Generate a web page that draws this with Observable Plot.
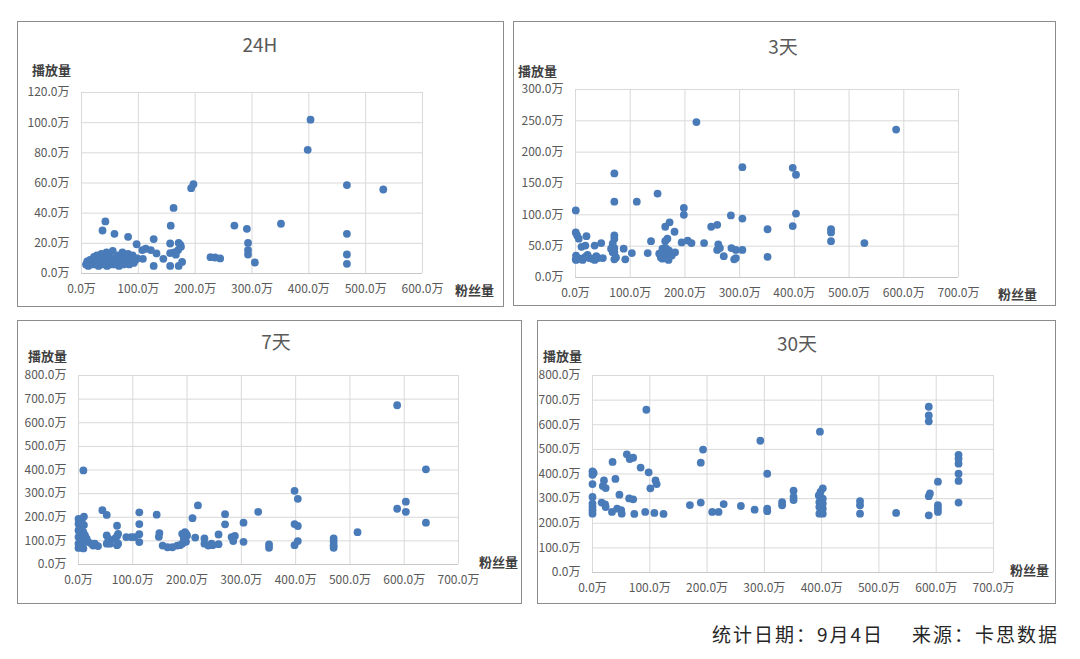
<!DOCTYPE html>
<html><head><meta charset="utf-8">
<script src="https://cdn.jsdelivr.net/npm/d3@7"></script>
<script src="https://cdn.jsdelivr.net/npm/@observablehq/plot@0.6"></script>
<style>
body{margin:0;background:#fff;width:1080px;height:659px;overflow:hidden;position:relative;font-family:"Noto Sans CJK SC","Noto Sans",sans-serif;}
.box{position:absolute;border:1.5px solid #8c8c8c;box-sizing:border-box;background:#fff;}
.chart{position:absolute;}
.chart svg{display:block;}
.title{position:absolute;font-size:19px;color:#595959;transform:translate(-50%,-50%);white-space:nowrap;}
.alab{position:absolute;font-size:13px;font-weight:700;color:#404040;transform:translate(0,-50%);white-space:nowrap;}
.caption{position:absolute;right:21px;top:633px;transform:translate(0,-50%);font-size:19px;letter-spacing:2px;color:#262626;white-space:nowrap;}
.caption span+span{margin-left:28px;}
</style>
</head><body>
<div class="caption"><span>统计日期：9月4日</span><span>来源：卡思数据</span></div>
<script>
// ---- data: [粉丝量(万), 播放量(万)] ----
const data24h = [
 [403,102],[398,82],[467,58.6],[531,55.7],[467,26.3],[467,12.6],[467,6.4],[351,33],[269,31.8],[291,29.6],
 [293,20.3],[293,15.5],[293,12.6],[305,7.3],[227,10.8],[235,10.6],[244,10],[197,59.2],[193,56.6],[162,43.5],
 [157,31.7],[156,19.9],[156,5],[171,20.3],[175,17.7],[170,15.5],[163,14],[156,13.5],[177,7.7],[171,5],
 [174,19],[166,12.5],[127,22.8],[107,15.5],[108,9.7],[113,16.4],[127,5],[144,9.7],[132,13.3],[122,15.5],
 [97,19.4],[82,24.3],[58,26.3],[37,28.5],[42,34.5],
 [8,6],[10,8],[12,5],[14,7],[15,9],[18,6],[20,8],[22,11],[24,6],[25,9],[27,12],[28,7],[30,5],[31,10],
 [33,8],[35,13],[36,6],[38,9],[40,11],[42,7],[44,14],[45,5],[47,9],[48,12],[50,6],[52,8],[54,10],[55,15],
 [57,6],[60,9],[62,7],[64,12],[66,5],[68,10],[70,8],[72,14],[74,6],[76,11],[78,9],[80,7],[82,13],[84,6],
 [86,10],[88,8],[90,12],[92,7],[95,9],[98,10]
];
const data3d = [
 [221,248],[586,236],[305,176],[397,175],[403,164],[403,102],[397,82],[351,77],[351,33],[467,77],[467,72],
 [467,58],[528,55],[71,166],[71,121],[112,121],[150,134],[0.5,107],[198,111],[198,100],[172,88],[164,81],
 [181,73],[168,62],[164,58],[194,56],[205,59],[212,55],[235,55],[248,81],[259,84],[284,99],[305,94],
 [261,53],[264,47],[259,44],[271,34],[285,47],[293,44],[305,44],[293,31],[290,29],[138,58],[132,39],
 [103,39],[88,46],[91,29],[71,67],[71,62],[68,54],[71,47],[71,40],[71,29],[74,32],[65,46],[68,40],
 [0.5,72],[3,67],[6,62],[18,51],[11,49],[20,66],[35,51],[47,55],
 [1,35],[0.5,29],[1,28],[6,30],[10,30],[13,28],[18,33],[22,36],[25,31],[30,30],[35,28],[38,34],[42,31],[50,31],
 [153,38],[156,32],[159,46],[162,35],[165,40],[168,32],[171,43],[174,38],[176,35],[159,30],[182,40],[166,46],[170,28]
];
const data7d = [
 [587,674],[640,403],[603,266],[587,236],[603,223],[640,177],[514,137],[398,312],[404,278],[398,171],
 [404,163],[404,99],[398,82],[470,110],[470,96],[470,82],[470,71],[351,85],[351,71],[331,223],[304,177],
 [304,96],[270,213],[270,170],[288,121],[285,99],[282,116],[258,127],[258,86],[247,82],[232,110],[232,88],
 [239,80],[245,88],[215,114],[220,250],[210,196],[198,131],[197,116],[194,110],[198,96],[196,137],[187,82],
 [191,130],[191,88],[200,123],[182,80],[173,73],[164,73],[155,80],[144,211],[149,133],[148,117],[112,221],
 [112,171],[112,128],[112,95],[88,116],[97,116],[103,116],[71,164],[71,120],[71,82],[44,230],[52,210],
 [52,123],[55,109],[52,88],[58,88],[67,109],[73,88],[73,130],[36,78],[9,398],[10,203],[10,167],
 [0,193],[6,186],[0,172],[0,144],[0,116],[0,88],[0,70],[6,165],[9,137],[12,123],[15,109],[18,95],[24,88],
 [27,80],[30,88],[3,73],[6,80],[9,68],[6,102],[2,155],[4,128],[3,95],[1,80]
];
const data30d = [
 [94,661],[60,480],[65,461],[71,466],[35,449],[84,426],[98,407],[0,411],[2,404],[0,397],[0,359],[20,374],
 [18,351],[23,343],[40,380],[110,374],[112,359],[101,342],[47,316],[0,307],[64,301],[71,297],[16,284],
 [22,277],[23,266],[34,246],[43,259],[50,253],[51,239],[0,280],[0,266],[0,253],[0,239],[73,238],[92,246],
 [108,242],[124,238],[170,274],[189,284],[189,446],[193,499],[209,246],[220,246],[229,278],[259,270],
 [283,255],[293,535],[305,401],[305,259],[305,249],[331,286],[331,273],[351,332],[351,307],[351,294],
 [397,572],[402,342],[398,327],[395,313],[402,300],[396,286],[402,280],[396,266],[402,259],[398,246],
 [402,239],[396,239],[467,290],[467,273],[467,239],[530,242],[587,673],[587,638],[587,614],[589,321],
 [587,310],[587,232],[603,369],[603,273],[603,259],[603,246],[639,478],[639,462],[639,442],[639,401],
 [639,372],[639,284]
];
// ---- ticks and labels ----
const xTicks600 = [0,100,200,300,400,500,600];
const xTicks700 = [0,100,200,300,400,500,600,700];
const yTicks24h = [0,20,40,60,80,100,120];
const yTicks3d = [0,50,100,150,200,250,300];
const yTicks7d = [0,100,200,300,400,500,600,700,800];
const yTicks30d = [0,100,200,300,400,500,600,700,800];
const titles = ["24H","3天","7天","30天"];
const yLabel = "播放量";
const xLabel = "粉丝量";
const fmt = d => d.toFixed(1) + "万";

// ---- layout ----
const panels = [
 {data:data24h, xt:xTicks600, yt:yTicks24h, title:titles[0], box:[17,21,504,307], plot:[81,422,92,273], t:[260,43], yl:[32,69], xl:[455,289]},
 {data:data3d, xt:xTicks700, yt:yTicks3d, title:titles[1], box:[513,21,1056,306], plot:[575,958,89,277], t:[783,45], yl:[518,70], xl:[998,293]},
 {data:data7d, xt:xTicks700, yt:yTicks7d, title:titles[2], box:[17,320,522,604], plot:[78,458,375,564], t:[276,340], yl:[28,355], xl:[479,561]},
 {data:data30d, xt:xTicks700, yt:yTicks30d, title:titles[3], box:[537,320,1056,604], plot:[592,993,375,572], t:[797,342], yl:[543,355], xl:[1010,569]}
];

for (const p of panels) {
  const [bl, bt, br, bb] = p.box;
  const [pl, pr, pt, pb] = p.plot;
  const box = document.createElement("div");
  box.className = "box";
  Object.assign(box.style, {left: bl+"px", top: bt+"px", width: (br-bl)+"px", height: (bb-bt)+"px"});
  document.body.appendChild(box);

  const svg = Plot.plot({
    width: br-bl, height: bb-bt,
    marginLeft: pl-bl, marginRight: br-pr, marginTop: pt-bt, marginBottom: bb-pb,
    x: {domain: [0, d3.max(p.xt)]},
    y: {domain: [0, d3.max(p.yt)]},
    style: {fontFamily: "'Noto Sans CJK SC','Noto Sans',sans-serif", fontSize: "12px", color: "#595959", background: "transparent", overflow: "visible"},
    marks: [
      Plot.gridX({ticks: p.xt, stroke: "#d9d9d9", strokeOpacity: 1, strokeWidth: 1}),
      Plot.gridY({ticks: p.yt, stroke: "#d9d9d9", strokeOpacity: 1, strokeWidth: 1}),
      Plot.ruleY([0], {stroke: "#c8c8c8"}),
      Plot.axisX({ticks: p.xt, tickFormat: fmt, tickSize: 0, tickPadding: 11, label: null}),
      Plot.axisY({ticks: p.yt, tickFormat: fmt, tickSize: 0, tickPadding: 12, label: null}),
      Plot.dot(p.data, {x: d => d[0], y: d => d[1], r: 3.9, fill: "#4a7bb9", stroke: "none"})
    ]
  });
  const wrap = document.createElement("div");
  wrap.className = "chart";
  Object.assign(wrap.style, {left: bl+"px", top: bt+"px"});
  wrap.appendChild(svg);
  document.body.appendChild(wrap);

  const t = document.createElement("div");
  t.className = "title"; t.textContent = p.title;
  Object.assign(t.style, {left: p.t[0]+"px", top: p.t[1]+"px"});
  document.body.appendChild(t);

  const yl = document.createElement("div");
  yl.className = "alab"; yl.textContent = yLabel;
  Object.assign(yl.style, {left: p.yl[0]+"px", top: p.yl[1]+"px"});
  document.body.appendChild(yl);

  const xl = document.createElement("div");
  xl.className = "alab"; xl.textContent = xLabel;
  Object.assign(xl.style, {left: p.xl[0]+"px", top: p.xl[1]+"px"});
  document.body.appendChild(xl);
}
</script>
</body></html>
